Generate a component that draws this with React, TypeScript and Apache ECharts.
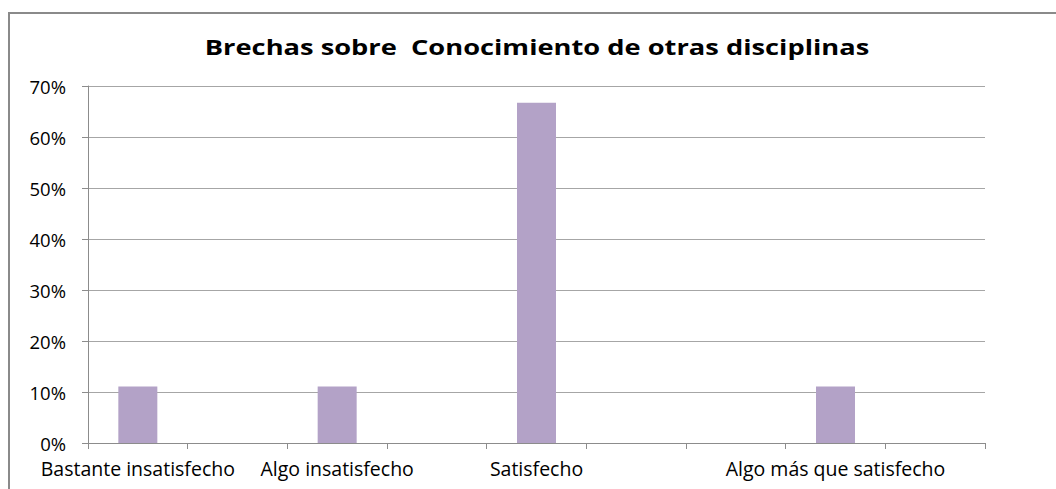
import React, { useEffect, useRef } from "react";
import * as echarts from "echarts";

const titleText = "Brechas sobre  Conocimiento de otras disciplinas";
const categories = [
  "Bastante insatisfecho",
  "",
  "Algo insatisfecho",
  "",
  "Satisfecho",
  "",
  "",
  "Algo más que satisfecho",
  "",
];
const values = [11.1, null, 11.1, null, 66.7, null, null, 11.1, null];
const yTicks = [0, 10, 20, 30, 40, 50, 60, 70];

export default function App() {
  const ref = useRef<HTMLDivElement>(null);
  useEffect(() => {
    document.body.style.margin = "0";
    const chart = echarts.init(ref.current!, null, { renderer: "svg" });
    const font = "Open Sans";
    chart.setOption({
      animation: false,
      backgroundColor: "#ffffff",
      graphic: [
        {
          type: "rect",
          shape: { x: 9, y: 13, width: 1200, height: 600 },
          style: { fill: "none", stroke: "#8a8a8a", lineWidth: 2 },
          silent: true,
        },
        {
          type: "text",
          x: 537,
          y: 47,
          scaleX: 1.24,
          style: {
            text: titleText,
            fontFamily: font,
            fontWeight: "bold",
            fontSize: 22,
            fill: "#000",
            textAlign: "center",
            textVerticalAlign: "middle",
          },
          silent: true,
        },
      ],
      grid: { left: 88, right: 71, top: 86, bottom: 46, containLabel: false },
      xAxis: {
        type: "category",
        data: categories,
        boundaryGap: true,
        axisLine: { lineStyle: { color: "#8c8c8c", width: 1 } },
        axisTick: { show: true, alignWithLabel: false, length: 6, lineStyle: { color: "#8c8c8c" }, interval: 0 },
        axisLabel: { interval: 0, fontFamily: font, fontSize: 19.5, color: "#000", margin: 15 },
      },
      yAxis: {
        type: "value",
        min: yTicks[0],
        max: yTicks[yTicks.length - 1],
        interval: 10,
        axisLine: { show: true, lineStyle: { color: "#8c8c8c" } },
        axisTick: { show: true, length: 6, lineStyle: { color: "#8c8c8c" } },
        splitLine: { lineStyle: { color: "#a6a6a6", width: 1 } },
        axisLabel: { formatter: "{value}%", fontFamily: font, fontSize: 18.5, color: "#000", margin: 22 },
      },
      series: [
        {
          type: "bar",
          data: values,
          barWidth: 39,
          itemStyle: { color: "#b3a2c7" },
        },
      ],
    });
    return () => chart.dispose();
  }, []);
  return <div ref={ref} style={{ width: 1056, height: 489 }} />;
}
